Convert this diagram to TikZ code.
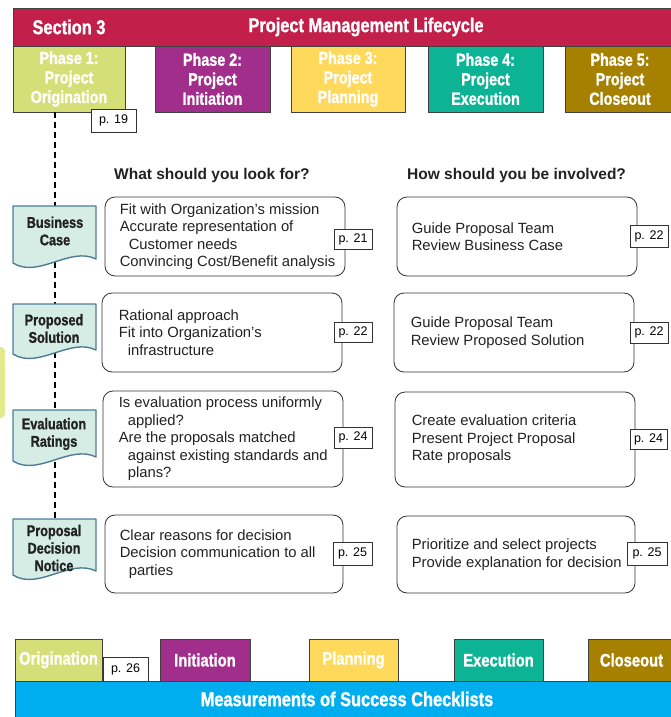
\documentclass[tikz,border=0pt]{standalone}
\usepackage{fontspec}
\setmainfont{Liberation Sans}
\newfontfamily\condfont[FakeStretch=0.82,FakeBold=1.2]{Liberation Sans}

\definecolor{crimson}{RGB}{194,31,75}
\definecolor{phorig}{RGB}{214,223,119}
\definecolor{phinit}{RGB}{162,46,140}
\definecolor{phplan}{RGB}{255,217,92}
\definecolor{phexec}{RGB}{13,179,149}
\definecolor{phclose}{RGB}{166,129,0}
\definecolor{skyband}{RGB}{0,174,239}
\definecolor{docfill}{RGB}{213,237,228}
\definecolor{docline}{RGB}{77,124,152}
\definecolor{sliver}{RGB}{227,233,140}
\definecolor{ink}{RGB}{34,34,34}

% document-shaped label with a wavy bottom edge: #1 top, #2 left bottom
\newcommand\docshape[2]{%
  \filldraw[docstyle] (13,#1) -- (96,#1) -- (96,#2-4)
    .. controls (70,#2-17) and (38,#2+16) .. (13,#2) -- cycle;}

\begin{document}
\begin{tikzpicture}[x=1pt,y=-1pt,
  band/.style={draw=black!75, line width=0.6pt, inner sep=0pt},
  bandtext/.style={text=white, inner sep=0pt,
    font=\condfont\bfseries\fontsize{20}{24}\selectfont},
  phase/.style={draw=black!75, line width=0.6pt, text=white, align=center,
    inner sep=0pt, font=\condfont\bfseries\fontsize{17.5}{19.5}\selectfont},
  tab/.style={draw=black!75, line width=0.6pt, text=white, inner sep=0pt,
    minimum height=42pt, font=\condfont\bfseries\fontsize{18}{20}\selectfont},
  pagebox/.style={draw=black!80, fill=white, line width=0.6pt, inner sep=0pt,
    text=black, font=\fontsize{12.5}{14}\selectfont},
  infobox/.style={draw=black!80, rounded corners=10pt, line width=0.8pt,
    fill=white, inner sep=0pt},
  infotext/.style={anchor=west, align=left, inner sep=0pt, text=ink,
    font=\fontsize{14.8}{17.5}\selectfont},
  heading/.style={anchor=west, inner sep=0pt, text=ink,
    font=\bfseries\fontsize{15.5}{18}\selectfont},
  docstyle/.style={fill=docfill, draw=docline, line width=1.4pt, line join=round},
  doclabel/.style={align=center, inner sep=0pt, text=ink,
    font=\condfont\bfseries\fontsize{15.5}{17.5}\selectfont},
  dashline/.style={draw=black, line width=1.5pt, dash pattern=on 6pt off 4pt}]

\useasboundingbox (0,0) rectangle (671,717);

% title band
\node[band, fill=crimson, anchor=north west, minimum width=662pt,
  minimum height=38pt] (title) at (13,8) {};
\node[bandtext] (sect) at (69,27) {Section 3};
\node[bandtext] (lifecycle) at (366,27) {Project Management Lifecycle};

% phases
\node[phase, fill=phorig, minimum width=112pt, minimum height=66pt] (ph1) at (69,79)
  {Phase 1:\\Project\\Origination};
\node[phase, fill=phinit, minimum width=115pt, minimum height=66pt] (ph2) at (212.5,79)
  {Phase 2:\\Project\\Initiation};
\node[phase, fill=phplan, minimum width=114pt, minimum height=66pt] (ph3) at (348,79)
  {Phase 3:\\Project\\Planning};
\node[phase, fill=phexec, minimum width=115pt, minimum height=66pt] (ph4) at (485.5,79)
  {Phase 4:\\Project\\Execution};
\node[phase, fill=phclose, minimum width=110pt, minimum height=66pt] (ph5) at (620,79)
  {Phase 5:\\Project\\Closeout};
\node[pagebox, minimum width=45pt, minimum height=23pt] (pg19) at (113.5,120.5) {p. 19};

% dashed spine behind the document labels
\coordinate (spinetop) at (55,112);
\coordinate (spinebot) at (55,519);
\draw[dashline] (spinetop) -- (spinebot);

% edge of a neighbouring tab
\fill[sliver, rounded corners=4pt] (-10,347) rectangle (5,418);

% column headings
\node[heading] (hlook) at (114,175) {What should you look for?};
\node[heading] (hinv) at (407,175) {How should you be involved?};

% document labels
\docshape{206}{263}
\node[doclabel] (dbiz) at (55,231) {Business\\Case};
\docshape{304}{354}
\node[doclabel] (dsol) at (54,328.5) {Proposed\\Solution};
\docshape{410}{461}
\node[doclabel] (deval) at (54,434) {Evaluation\\Ratings};
\docshape{519}{575}
\node[doclabel] (dnote) at (54,548) {Proposal\\Decision\\Notice};

% what to look for
\node[infobox, minimum width=240pt, minimum height=79pt] (l1) at (225,236.5) {};
\node[infotext] (l1t) at ([xshift=15pt]l1.west)
  {Fit with Organization’s mission\\Accurate representation of\\
   \hspace*{9pt}Customer needs\\Convincing Cost/Benefit analysis};
\node[pagebox, minimum width=38pt, minimum height=20pt] (l1p) at (353,239.5) {p. 21};

\node[infobox, minimum width=240pt, minimum height=79pt] (l2) at (222,332.5) {};
\node[infotext] (l2t) at ([xshift=17pt]l2.west)
  {Rational approach\\Fit into Organization’s\\\hspace*{9pt}infrastructure};
\node[pagebox, minimum width=38pt, minimum height=20pt] (l2p) at (353,332) {p. 22};

\node[infobox, minimum width=240pt, minimum height=96pt] (l3) at (223,439) {};
\node[infotext] (l3t) at ([xshift=16pt]l3.west)
  {Is evaluation process uniformly\\\hspace*{9pt}applied?\\Are the proposals matched\\
   \hspace*{9pt}against existing standards and\\\hspace*{9pt}plans?};
\node[pagebox, minimum width=38pt, minimum height=21pt] (l3p) at (353,437.5) {p. 24};

\node[infobox, minimum width=238pt, minimum height=78pt] (l4) at (224,554) {};
\node[infotext] (l4t) at ([xshift=15pt]l4.west)
  {Clear reasons for decision\\Decision communication to all\\\hspace*{9pt}parties};
\node[pagebox, minimum width=39pt, minimum height=23pt] (l4p) at (352.5,553.5) {p. 25};

% how to be involved
\node[infobox, minimum width=240pt, minimum height=79pt] (r1) at (517,236.5) {};
\node[infotext] (r1t) at ([xshift=15pt]r1.west)
  {Guide Proposal Team\\Review Business Case};
\node[pagebox, minimum width=38pt, minimum height=22pt] (r1p) at (649,236) {p. 22};

\node[infobox, minimum width=240pt, minimum height=79pt] (r2) at (514,332.5) {};
\node[infotext] (r2t) at ([xshift=17pt]r2.west)
  {Guide Proposal Team\\Review Proposed Solution};
\node[pagebox, minimum width=38pt, minimum height=21pt] (r2p) at (649,332.5) {p. 22};

\node[infobox, minimum width=240pt, minimum height=95pt] (r3) at (515,439.5) {};
\node[infotext] (r3t) at ([xshift=17pt]r3.west)
  {Create evaluation criteria\\Present Project Proposal\\Rate proposals};
\node[pagebox, minimum width=37pt, minimum height=20pt] (r3p) at (648.5,439) {p. 24};

\node[infobox, minimum width=238pt, minimum height=77pt] (r4) at (516,554.5) {};
\node[infotext] (r4t) at ([xshift=15pt]r4.west)
  {Prioritize and select projects\\Provide explanation for decision};
\node[pagebox, minimum width=40pt, minimum height=23pt] (r4p) at (647,553.5) {p. 25};

% checklist tabs and band
\node[tab, fill=phorig, minimum width=87pt] (t1) at (58.5,660) {Origination};
\node[pagebox, minimum width=45pt, minimum height=24pt] (pg26) at (125.5,669) {p. 26};
\node[tab, fill=phinit, minimum width=90pt] (t2) at (205,660) {Initiation};
\node[tab, fill=phplan, minimum width=89pt] (t3) at (353.5,660) {Planning};
\node[tab, fill=phexec, minimum width=89pt] (t4) at (498.5,660) {Execution};
\node[tab, fill=phclose, minimum width=87pt] (t5) at (631.5,660) {Closeout};
\node[band, fill=skyband, anchor=north west, minimum width=660pt,
  minimum height=40pt] (checks) at (15,681) {};
\node[bandtext] (checkt) at (347,699) {Measurements of Success Checklists};

\end{tikzpicture}
\end{document}
